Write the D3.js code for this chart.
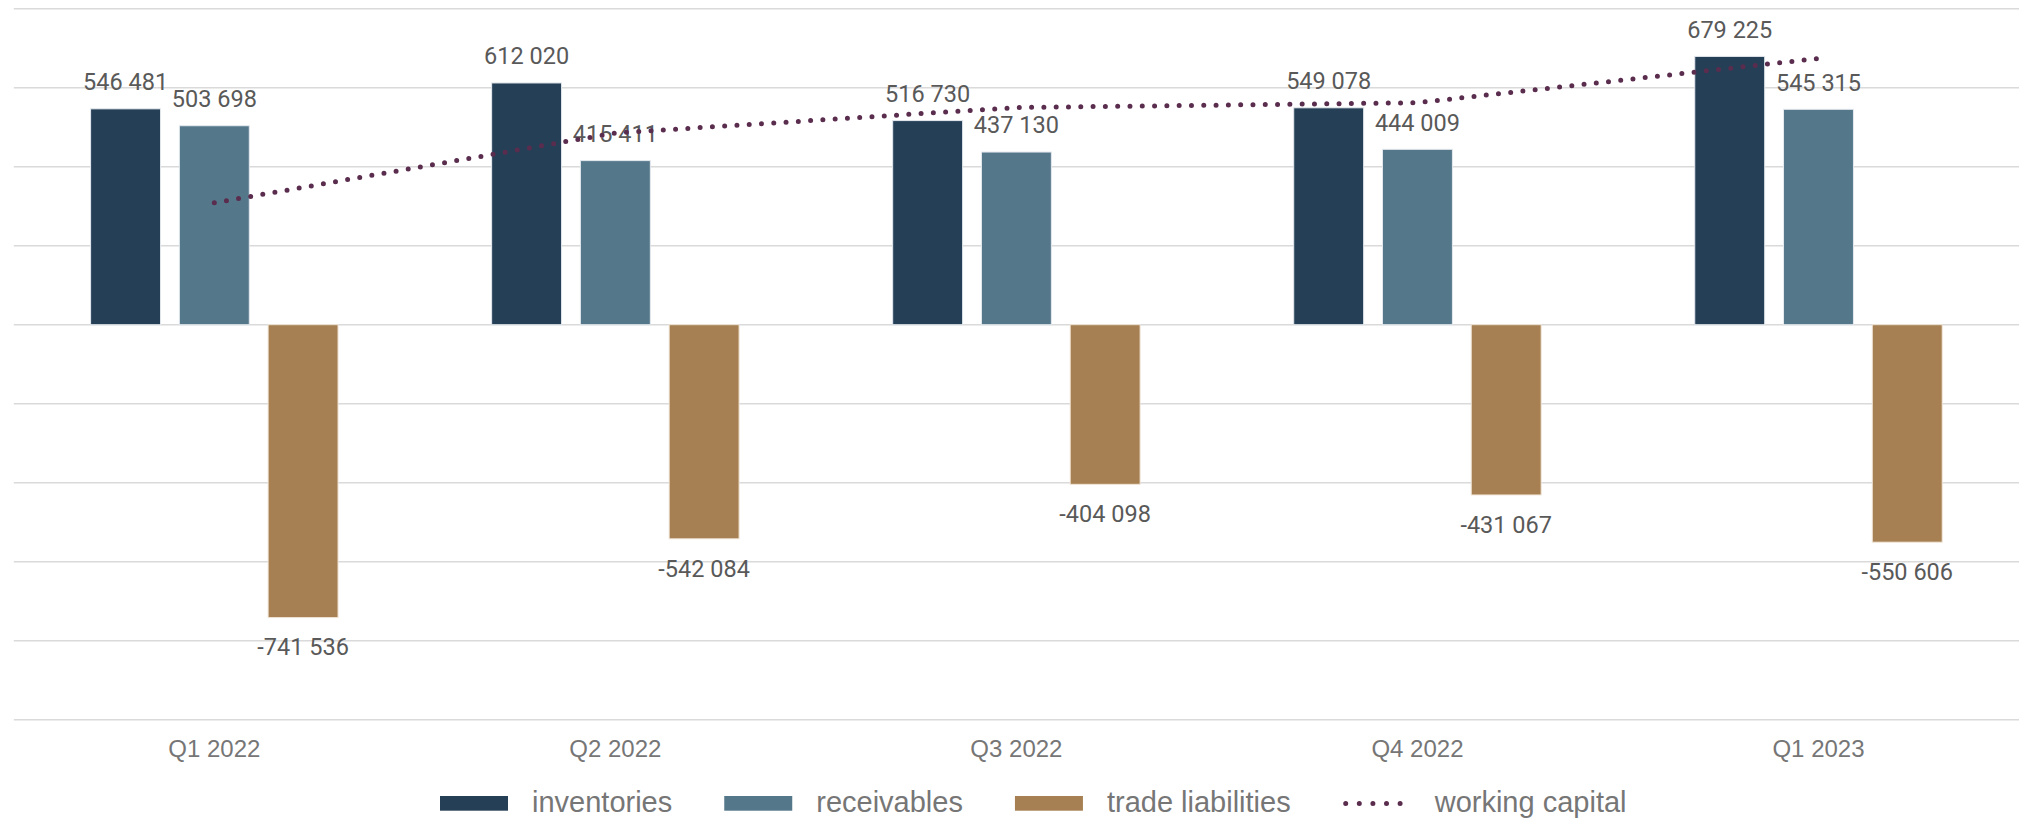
<!DOCTYPE html>
<html>
<head>
<meta charset="utf-8">
<script src="https://cdn.jsdelivr.net/npm/d3@7"></script>
<style>
  html, body { margin: 0; padding: 0; background: #ffffff; }
  svg { display: block; }
</style>
</head>
<body>
<svg id="chart" width="2027" height="822"></svg>
<script>
// Quarterly working capital components
const quarters = ["Q1 2022", "Q2 2022", "Q3 2022", "Q4 2022", "Q1 2023"];
const inventories = [546481, 612020, 516730, 549078, 679225];
const receivables = [503698, 415411, 437130, 444009, 545315];
const tradeLiabilities = [-741536, -542084, -404098, -431067, -550606];
const workingCapital = [308643, 485347, 549762, 562020, 673934];
const gridTicks = [-1000000, -800000, -600000, -400000, -200000, 0, 200000, 400000, 600000, 800000];

const barSeries = [
  { name: "inventories", values: inventories, color: "#253f57", edge: "#e4e9ee" },
  { name: "receivables", values: receivables, color: "#55778a", edge: "#e4e9ee" },
  { name: "trade liabilities", values: tradeLiabilities, color: "#a68052", edge: "#f1e6d8" }
];
const lineColor = "#5a2d4e";

const svg = d3.select("#chart");

const x = d3.scaleBand()
  .domain(quarters)
  .range([13.8, 2019])
  .paddingInner(0.383)
  .paddingOuter(0.1915);

const xSub = d3.scaleBand()
  .domain(barSeries.map(s => s.name))
  .range([0, x.bandwidth()])
  .paddingInner(0.212)
  .paddingOuter(0);

const y = d3.scaleLinear()
  .domain([-1000000, 800000])
  .range([719.7, 8.7]);

// Space as thousands separator, plain hyphen for negatives
const fmt = v => d3.format(",")(v).replace(/,/g, " ").replace("\u2212", "-");

// Horizontal gridlines
svg.append("g")
  .selectAll("line")
  .data(gridTicks)
  .join("line")
  .attr("x1", 13.8)
  .attr("x2", 2019)
  .attr("y1", d => y(d))
  .attr("y2", d => y(d))
  .attr("stroke", "#dadada")
  .attr("stroke-width", 1.6);

// Bars
const groups = svg.append("g")
  .selectAll("g")
  .data(barSeries)
  .join("g");

groups.selectAll("rect")
  .data(s => s.values.map((v, i) => ({ s, v, q: quarters[i] })))
  .join("rect")
  .attr("x", d => x(d.q) + xSub(d.s.name))
  .attr("width", xSub.bandwidth())
  .attr("y", d => y(Math.max(0, d.v)))
  .attr("height", d => Math.abs(y(d.v) - y(0)))
  .attr("fill", d => d.s.color)
  .attr("stroke", d => d.s.edge)
  .attr("stroke-width", 1);

// Working capital line
const line = d3.line()
  .x((d, i) => x(quarters[i]) + x.bandwidth() / 2)
  .y(d => y(d));

svg.append("path")
  .datum(workingCapital)
  .attr("d", line)
  .attr("fill", "none")
  .attr("stroke", lineColor)
  .attr("stroke-width", 5)
  .attr("stroke-linecap", "round")
  .attr("stroke-dasharray", "0 12.3");

// Value labels
groups.selectAll("text")
  .data(s => s.values.map((v, i) => ({ s, v, q: quarters[i] })))
  .join("text")
  .attr("x", d => x(d.q) + xSub(d.s.name) + xSub.bandwidth() / 2)
  .attr("y", d => d.v >= 0 ? y(d.v) - 18.6 : y(d.v) + 37.7)
  .attr("text-anchor", "middle")
  .attr("font-family", "Roboto, sans-serif")
  .attr("font-size", 23.5)
  .attr("fill", "#595959")
  .text(d => fmt(d.v));

// Category axis
const xAxis = svg.append("g")
  .attr("transform", "translate(0,757)")
  .call(d3.axisBottom(x).tickSize(0).tickPadding(0));
xAxis.select(".domain").remove();
xAxis.selectAll("text")
  .attr("dy", 0)
  .attr("font-family", "'Liberation Sans', Arial, sans-serif")
  .attr("font-size", 24)
  .attr("fill", "#767676");

// Legend
const legendItems = barSeries.map(s => ({ name: s.name, type: "bar", color: s.color }))
  .concat([{ name: "working capital", type: "line", color: lineColor }]);

const legend = svg.append("g");
let lx = 440;
legendItems.forEach(item => {
  const g = legend.append("g");
  if (item.type === "bar") {
    g.append("rect")
      .attr("x", lx).attr("y", 796)
      .attr("width", 68).attr("height", 14.7)
      .attr("fill", item.color);
  } else {
    g.append("line")
      .attr("x1", lx + 3).attr("x2", lx + 71)
      .attr("y1", 803.4).attr("y2", 803.4)
      .attr("stroke", item.color)
      .attr("stroke-width", 5)
      .attr("stroke-linecap", "round")
      .attr("stroke-dasharray", "0 13.6");
  }
  const t = g.append("text")
    .attr("x", lx + 92)
    .attr("y", 812.3)
    .attr("font-family", "'Liberation Sans', Arial, sans-serif")
    .attr("font-size", 29)
    .attr("fill", "#767676")
    .text(item.name);
  lx = lx + 92 + t.node().getComputedTextLength() + 52;
});
</script>
</body>
</html>
